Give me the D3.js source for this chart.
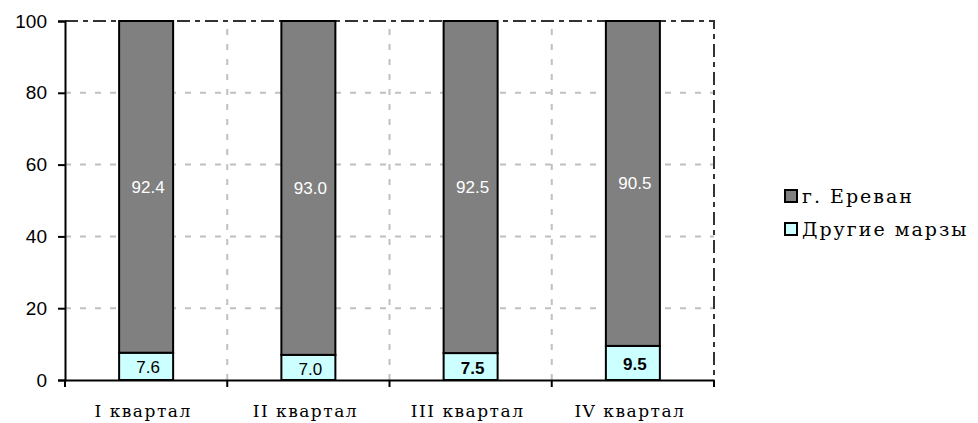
<!DOCTYPE html>
<html>
<head>
<meta charset="utf-8">
<script src="https://cdn.jsdelivr.net/npm/d3@7"></script>
<style>
  body { margin: 0; background: #fff; }
  svg { display: block; }
</style>
</head>
<body>
<div class="chart"></div>
<script>
const categories = ["I квартал", "II квартал", "III квартал", "IV квартал"];
const yerevan = [92.4, 93.0, 92.5, 90.5];
const otherMarz = [7.6, 7.0, 7.5, 9.5];
const boldOther = [false, false, true, true];
const seriesNames = ["г. Ереван", "Другие марзы"];
const yTicks = [0, 20, 40, 60, 80, 100];

const width = 978, height = 423;
const margin = { left: 65, right: 264, top: 21, bottom: 43 };

const svg = d3.select(".chart").append("svg")
    .attr("width", width)
    .attr("height", height);

const x = d3.scaleBand()
    .domain(categories)
    .range([margin.left, width - margin.right]);

const y = d3.scaleLinear()
    .domain([0, 100])
    .range([height - margin.bottom, margin.top]);

const barW = 54;
const sans = "Liberation Sans, Arial, sans-serif";
const serif = "DejaVu Serif, serif";

// gridlines
const grid = svg.append("g").attr("class", "grid");
grid.selectAll(".hgrid")
    .data(yTicks.filter(d => d > 0 && d < 100))
    .enter().append("line")
    .attr("x1", x.range()[0]).attr("x2", x.range()[1])
    .attr("y1", d => y(d)).attr("y2", d => y(d))
    .attr("stroke", "#c0c0c0").attr("stroke-width", 2)
    .attr("stroke-dasharray", "6,9");

grid.selectAll(".vgrid")
    .data(categories.slice(1))
    .enter().append("line")
    .attr("x1", d => x(d)).attr("x2", d => x(d))
    .attr("y1", y(0)).attr("y2", y(100))
    .attr("stroke", "#c0c0c0").attr("stroke-width", 2)
    .attr("stroke-dasharray", "6,9");

// plot border top & right (dash-dot)
svg.append("path")
    .attr("d", `M${x.range()[0]},${y(100)}H${x.range()[1]}V${y(0)}`)
    .attr("fill", "none")
    .attr("stroke", "#333")
    .attr("stroke-width", 2)
    .attr("stroke-dasharray", "13,5,5,5");

// bars
const bars = svg.append("g").attr("class", "bars");
categories.forEach((c, i) => {
    const cx = x(c) + x.bandwidth() / 2;
    bars.append("rect")
        .attr("x", cx - barW / 2)
        .attr("y", y(otherMarz[i]))
        .attr("width", barW)
        .attr("height", y(0) - y(otherMarz[i]))
        .attr("fill", "#ccffff")
        .attr("stroke", "#000").attr("stroke-width", 2);
    bars.append("rect")
        .attr("x", cx - barW / 2)
        .attr("y", y(otherMarz[i] + yerevan[i]))
        .attr("width", barW)
        .attr("height", y(otherMarz[i]) - y(otherMarz[i] + yerevan[i]))
        .attr("fill", "#808080")
        .attr("stroke", "#000").attr("stroke-width", 2);

    bars.append("text")
        .attr("x", cx + 2)
        .attr("y", y(otherMarz[i] + yerevan[i] / 2))
        .attr("dy", "0.35em")
        .attr("text-anchor", "middle")
        .attr("font-family", sans)
        .attr("font-size", 17)
        .attr("fill", "#fff")
        .text(yerevan[i].toFixed(1));

    bars.append("text")
        .attr("x", cx + 2)
        .attr("y", y(otherMarz[i] / 2))
        .attr("dy", "0.42em")
        .attr("text-anchor", "middle")
        .attr("font-family", sans)
        .attr("font-size", 17)
        .attr("font-weight", boldOther[i] ? "bold" : "normal")
        .attr("fill", "#000")
        .text(otherMarz[i].toFixed(1));
});

// y axis
const yAxis = svg.append("g")
    .attr("transform", `translate(${margin.left},0)`)
    .call(d3.axisLeft(y).tickValues(yTicks).tickSize(7).tickPadding(11));
yAxis.select(".domain").attr("stroke", "#000").attr("stroke-width", 2);
yAxis.selectAll(".tick line").attr("stroke", "#000").attr("stroke-width", 2);
yAxis.selectAll(".tick text")
    .attr("font-family", sans)
    .attr("font-size", 19)
    .attr("fill", "#000");

// x axis
const xAxis = svg.append("g")
    .attr("transform", `translate(0,${y(0)})`)
    .call(d3.axisBottom(x).tickSize(0).tickPadding(25));
xAxis.select(".domain").attr("stroke", "#000").attr("stroke-width", 2);
xAxis.selectAll(".tick text")
    .attr("font-family", serif)
    .attr("font-size", 17)
    .attr("letter-spacing", "1.5px")
    .attr("dx", "-3")
    .attr("fill", "#000");
xAxis.selectAll(".btick")
    .data(categories.map(c => x(c)).concat([x.range()[1]]))
    .enter().append("line")
    .attr("x1", d => d).attr("x2", d => d)
    .attr("y1", 0).attr("y2", 7)
    .attr("stroke", "#000").attr("stroke-width", 2);

// legend
const legendColors = ["#808080", "#ccffff"];
const legend = svg.append("g").attr("transform", "translate(785,190)");
seriesNames.forEach((name, i) => {
    const g = legend.append("g").attr("transform", `translate(0,${i * 33})`);
    g.append("rect")
        .attr("width", 12).attr("height", 12)
        .attr("fill", legendColors[i])
        .attr("stroke", "#000").attr("stroke-width", 2);
    g.append("text")
        .attr("x", 17).attr("y", 13)
        .attr("font-family", serif)
        .attr("font-size", 19)
        .attr("letter-spacing", "2px")
        .attr("fill", "#000")
        .text(name);
});
</script>
</body>
</html>
